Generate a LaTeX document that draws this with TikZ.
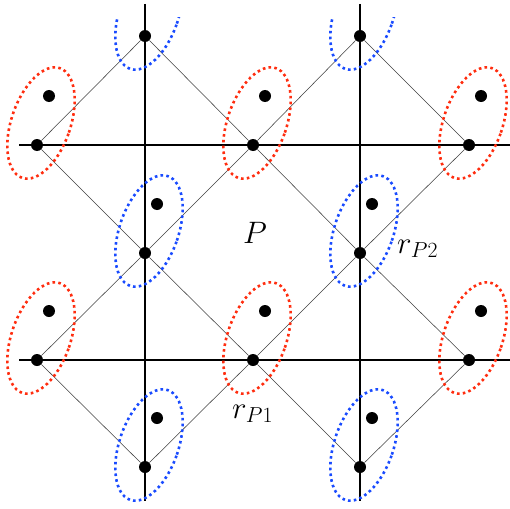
\documentclass[tikz,border=0pt]{standalone}
\usepackage{fix-cm}
\definecolor{orbred}{RGB}{255,45,15}
\definecolor{orbblue}{RGB}{25,75,255}
\begin{document}
\begin{tikzpicture}[x=1pt,y=-1pt,
  pt/.style={circle,fill=black,inner sep=0pt,minimum size=12pt},
  bond/.style={line width=0.55pt,black!75},
  axisline/.style={line width=2.9pt,black},
  orb/.style={line width=2.6pt,dash pattern=on 2.6pt off 3.2pt},
  lbl/.style={inner sep=0pt,font=\fontsize{31}{37}\selectfont}]
\useasboundingbox (0,0) rectangle (510,508);
% lattice points
\foreach \n/\x/\y in {h00/37/145,h10/253/145,h20/469/145,h01/37/360,h11/253/360,h21/469/360,
                       v00/145/36,v10/360/36,v01/145/253,v11/360/253,v02/145/467,v12/360/467}
  \node[pt] (\n) at (\x,\y) {};
% satellite points
\foreach \n/\x/\y in {h00/37/145,h10/253/145,h20/469/145,h01/37/360,h11/253/360,h21/469/360,
                       v01/145/253,v11/360/253,v02/145/467,v12/360/467}
  \node[pt] (\n s) at (\x+12,\y-49) {};
% bonds
\foreach \a/\b in {h00/v00,h00/v01,h10/v00,h10/v10,h10/v01,h10/v11,h20/v10,h20/v11,
                   h01/v01,h01/v02,h11/v01,h11/v11,h11/v02,h11/v12,h21/v11,h21/v12}
  \draw[bond] (\a) -- (\b);
% axes
\coordinate (ha0) at (19,145); \coordinate (hb0) at (510,145);
\coordinate (ha1) at (19,360); \coordinate (hb1) at (510,360);
\coordinate (va0) at (145,4);  \coordinate (vb0) at (145,501);
\coordinate (va1) at (360,4);  \coordinate (vb1) at (360,501);
\draw[axisline] (ha0) -- (hb0);
\draw[axisline] (ha1) -- (hb1);
\draw[axisline] (va0) -- (vb0);
\draw[axisline] (va1) -- (vb1);
% orbitals
\begin{scope}
\clip (0,18) rectangle (510,508);
\foreach \x/\y/\c in {37/145/orbred,253/145/orbred,469/145/orbred,37/360/orbred,253/360/orbred,469/360/orbred,
                      145/36/orbblue,360/36/orbblue,145/253/orbblue,360/253/orbblue,145/467/orbblue,360/467/orbblue}
  \draw[orb,\c,rotate around={-19:(\x+4,\y-22)}] (\x+4,\y-22) ellipse [x radius=29.5pt,y radius=58pt];
\end{scope}
% labels
\node[lbl,anchor=base] (P) at (255,243) {$P$};
\node[lbl,anchor=base west] (rP2) at (397,253) {$r_{P2}$};
\node[lbl,anchor=base west] (rP1) at (232,418) {$r_{P1}$};
\end{tikzpicture}
\end{document}
